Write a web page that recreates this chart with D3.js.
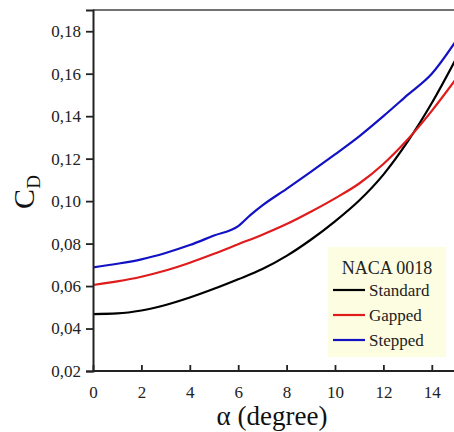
<!DOCTYPE html>
<html>
<head>
<meta charset="utf-8">
<script src="https://cdn.jsdelivr.net/npm/d3@7"></script>
</head>
<body style="margin:0">
<svg id="chart" width="454" height="432" font-family="Liberation Serif"></svg>
<script>
// angle of attack (degree)
const alphaStd = [0, 1, 2, 3, 4, 5, 6, 7, 8, 9, 10, 11, 12, 13, 14, 15]
const standard = [0.0468, 0.0471, 0.0485, 0.0511, 0.0546, 0.0587, 0.0632, 0.0680, 0.0742, 0.0818, 0.0905, 0.1003, 0.1125, 0.1280, 0.1462, 0.1670]

const alphaGap = [0, 1, 2, 3, 4, 5, 6, 7, 8, 9, 10, 11, 12, 13, 14, 15]
const gapped = [0.0605, 0.0622, 0.0644, 0.0673, 0.0710, 0.0752, 0.0797, 0.0842, 0.0892, 0.0950, 0.1013, 0.1083, 0.1175, 0.1290, 0.1425, 0.1575]

const alphaStep = [0, 1, 2, 3, 4, 5, 6, 6.5, 7, 8, 9, 10, 11, 12, 13, 14, 15]
const stepped = [0.0688, 0.0705, 0.0726, 0.0756, 0.0793, 0.0838, 0.0882, 0.0934, 0.0980, 0.1058, 0.1138, 0.1220, 0.1305, 0.1400, 0.1500, 0.1600, 0.1755]

const xTicks = [0, 2, 4, 6, 8, 10, 12, 14]
const yTicks = [0.02, 0.04, 0.06, 0.08, 0.10, 0.12, 0.14, 0.16, 0.18]

const seriesNames = ['Standard', 'Gapped', 'Stepped']
const seriesColors = ['#000000', '#e01b1b', '#1212c4']

const FONT = 'Liberation Serif'

const margin = { top: 10, right: -2, bottom: 61, left: 93 }
const width = 454
const height = 432

const svg = d3.select('#chart')

const x = d3.scaleLinear().domain([0, 15]).range([margin.left, width - margin.right])
const y = d3.scaleLinear().domain([0.02, 0.19]).range([height - margin.bottom, margin.top])

const fmt = d => d3.format('.2f')(d).replace('.', ',')

// clip for curves
svg.append('clipPath').attr('id', 'plotclip')
  .append('rect')
  .attr('x', margin.left).attr('y', margin.top)
  .attr('width', width - margin.right - margin.left)
  .attr('height', height - margin.bottom - margin.top)

// top frame line
svg.append('line')
  .attr('x1', margin.left).attr('x2', width)
  .attr('y1', y(0.19)).attr('y2', y(0.19))
  .attr('stroke', '#444').attr('stroke-width', 1.5)

const data = [
  alphaStd.map((a, i) => [a, standard[i]]),
  alphaGap.map((a, i) => [a, gapped[i]]),
  alphaStep.map((a, i) => [a, stepped[i]])
]

const line = d3.line()
  .x(d => x(d[0]))
  .y(d => y(d[1]))
  .curve(d3.curveMonotoneX)

svg.append('g').attr('clip-path', 'url(#plotclip)')
  .selectAll('path')
  .data(data)
  .join('path')
  .attr('d', line)
  .attr('fill', 'none')
  .attr('stroke', (d, i) => seriesColors[i])
  .attr('stroke-width', 2.2)

// axes
const xAxis = d3.axisBottom(x).tickValues(xTicks).tickSize(6).tickPadding(6)
const yAxis = d3.axisLeft(y).tickValues(yTicks).tickFormat(fmt).tickSize(7).tickPadding(5)

const gx = svg.append('g')
  .attr('transform', `translate(0, ${height - margin.bottom})`)
  .call(xAxis)
  .attr('font-family', FONT)
gx.select('.domain').attr('d', `M${margin.left},0H${width}`)

const gy = svg.append('g')
  .attr('transform', `translate(${margin.left}, 0)`)
  .call(yAxis)
  .attr('font-family', FONT)

svg.selectAll('.domain').attr('stroke', '#222').attr('stroke-width', 2)
svg.selectAll('.tick line').attr('stroke', '#222').attr('stroke-width', 1.8)
svg.selectAll('.tick text')
  .attr('font-family', FONT)
  .attr('font-size', 17)
  .attr('fill', '#222')
gx.selectAll('.tick line').attr('y1', 0).attr('y2', -6)
gx.selectAll('.tick text').attr('dy', '0.9em')

// axis titles
svg.append('text')
  .attr('x', 272).attr('y', 425)
  .attr('text-anchor', 'middle')
  .attr('font-family', FONT)
  .attr('font-size', 27)
  .attr('fill', '#111')
  .text('α (degree)')

const yt = svg.append('text')
  .attr('transform', 'translate(34, 192) rotate(-90)')
  .attr('text-anchor', 'middle')
  .attr('font-family', FONT)
  .attr('font-size', 30)
  .attr('fill', '#111')
yt.append('tspan').text('C')
yt.append('tspan').attr('font-size', 19).attr('dy', 6).text('D')

// legend
const lg = svg.append('g').attr('transform', 'translate(328, 247)')
lg.append('rect')
  .attr('width', 118).attr('height', 110)
  .attr('fill', '#fdfde2')
lg.append('text')
  .attr('x', 59).attr('y', 27)
  .attr('text-anchor', 'middle')
  .attr('font-family', FONT)
  .attr('font-size', 18)
  .attr('fill', '#222')
  .text('NACA 0018')
const items = lg.selectAll('.item')
  .data(seriesNames)
  .join('g')
  .attr('transform', (d, i) => `translate(0, ${43 + i * 25})`)
items.append('line')
  .attr('x1', 5).attr('x2', 37)
  .attr('stroke', (d, i) => seriesColors[i])
  .attr('stroke-width', 2.2)
items.append('text')
  .attr('x', 41).attr('y', 5.5)
  .attr('font-family', FONT)
  .attr('font-size', 17)
  .attr('fill', '#222')
  .text(d => d)
</script>
</body>
</html>
